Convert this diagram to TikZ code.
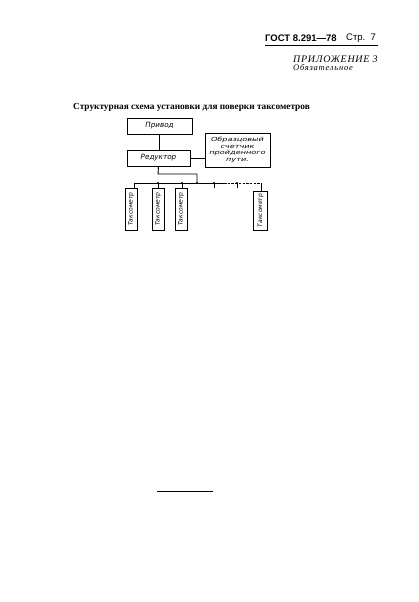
\documentclass[tikz,border=0pt]{standalone}
\usepackage{fontspec}
\usepackage{graphicx}
\usetikzlibrary{calc}
\setmainfont{Liberation Serif}
\newfontfamily\hdrfont{Liberation Sans}
\newfontfamily\boxfont{DejaVu Sans Oblique}
\newcommand{\widetxt}[1]{\scalebox{1.45}[1]{#1}}
\begin{document}
\begin{tikzpicture}[x=1pt,y=-1pt,
  blk/.style={draw,line width=0.9pt,inner sep=0pt,font=\boxfont\fontsize{7.2}{8}\selectfont},
  tax/.style={draw,line width=0.9pt,inner sep=0pt,minimum width=12pt,minimum height=42pt},
  taxt/.style={rotate=90,inner sep=0pt,font=\boxfont\fontsize{6}{7}\selectfont},
  wire/.style={line width=0.9pt},
  dot/.style={circle,fill,inner sep=0pt,minimum size=2.2pt}]
\useasboundingbox (0,0) rectangle (419,602);
% header
\node[anchor=west,inner sep=0pt,font=\hdrfont\bfseries\fontsize{9.5}{11}\selectfont] (gost) at (265,38) {ГОСТ 8.291—78};
\node[anchor=west,inner sep=0pt,font=\hdrfont\fontsize{9.5}{11}\selectfont] (page) at (346,38) {Стр.\ \ 7};
\draw[line width=1.1pt] (265,45.5) -- (378,45.5);
\node[anchor=west,inner sep=0pt,font=\itshape\fontsize{10}{11}\selectfont\addfontfeature{LetterSpace=7}] (app) at (293,59) {ПРИЛОЖЕНИЕ 3};
\node[anchor=west,inner sep=0pt,font=\itshape\fontsize{8.5}{9}\selectfont\addfontfeature{LetterSpace=9}] (oblig) at (293,67.5) {Обязательное};
% title
\node[anchor=west,inner sep=0pt,font=\bfseries\fontsize{9.3}{11}\selectfont] (title) at (73,107) {Структурная схема установки для поверки таксометров};
% blocks
\node[blk,minimum width=65pt,minimum height=16pt] (drive) at (159.5,126) {Привод};
\node[blk,minimum width=63pt,minimum height=16pt] (red) at (158.5,158) {Редуктор};
\node[blk,minimum width=65pt,minimum height=34pt,align=center,font=\boxfont\fontsize{5.6}{6.5}\selectfont] (ctr) at (237.5,150) {\widetxt{Образцовый}\\\widetxt{счетчик}\\\widetxt{пройденного}\\\widetxt{пути.}};
\foreach \n/\x in {t1/131,t2/158,t3/181}{
  \node[tax] (\n) at (\x,209) {};
  \node[taxt] at (\n.center) {Таксометр};
}
\node[tax,minimum width=14pt,minimum height=39pt] (t4) at (260.5,210.5) {};
\node[taxt] at (t4.center) {Таксометр};
% bus coordinates
\coordinate (b1) at (134,183);
\coordinate (d1) at (158,183);
\coordinate (d2) at (182,183);
\coordinate (j) at (197,183);
\coordinate (d3) at (214,183);
\coordinate (d4) at (237,183);
\coordinate (bend) at (261,183);
\coordinate (r1) at (158,174);
\coordinate (r2) at (197,174);
\coordinate (sd) at (224,183);
% connectors
\draw[wire] (drive.south -| drive.center) -- (red.north -| drive.center);
\draw[wire] (red.east) -- (ctr.west |- red.east);
\draw[wire] (red.south) -- (r1) -- (r2) -- (j);
\draw[wire] (t1.north -| b1) -- (b1) -- (sd);
\draw[wire,dash pattern=on 2.5pt off 1.2pt] (sd) -- (bend);
\draw[wire] (bend) -- (t4.north -| bend);
\draw[wire] (d1) -- (d1 |- t2.north);
\draw[wire] (d2) -- (d2 |- t3.north);
\draw[wire] (d3) -- ++(0,5);
\draw[wire] (d4) -- ++(0,5);
\foreach \p in {d1,d2,j,d3,d4} \node[dot] at (\p) {};
% rule at bottom
\draw[line width=1pt] (157,491) -- (213,491);
\end{tikzpicture}
\end{document}
